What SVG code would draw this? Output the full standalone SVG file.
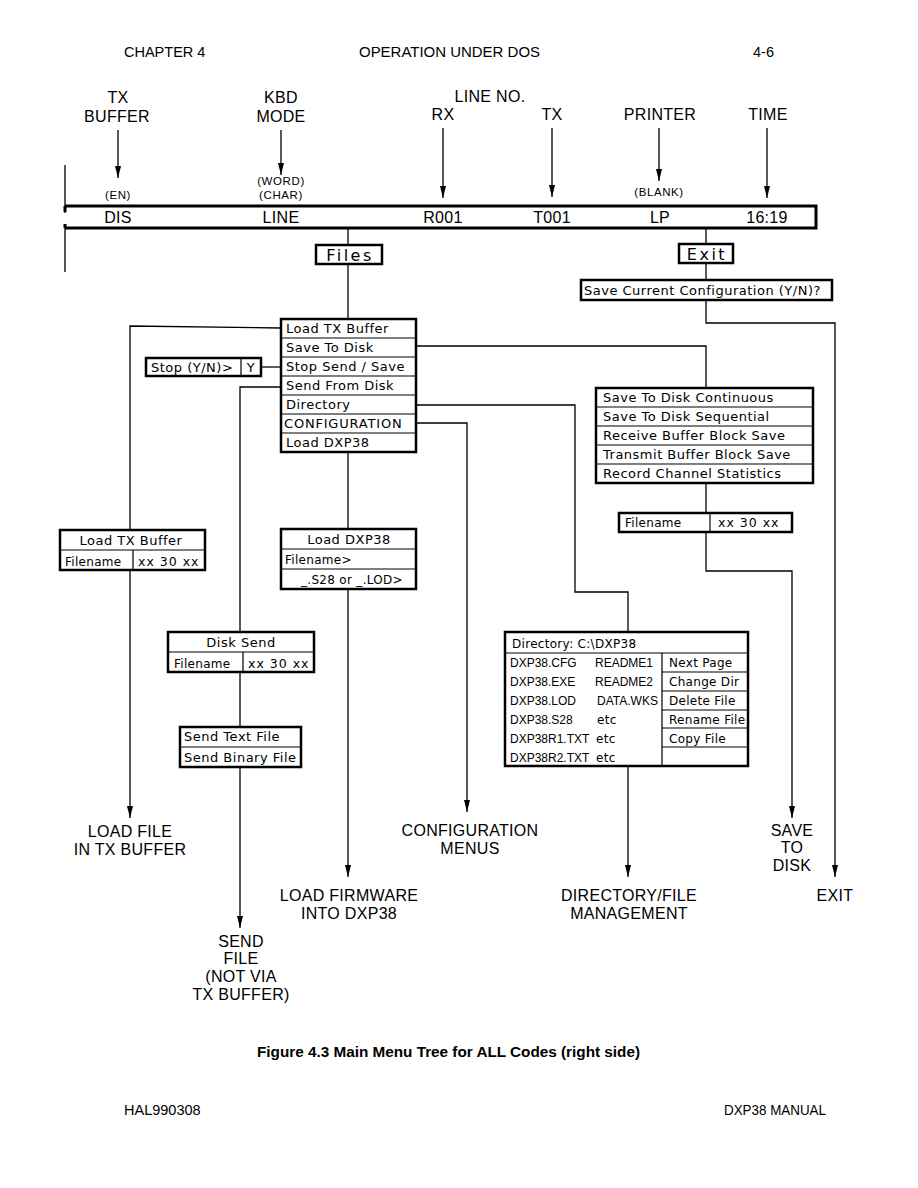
<svg xmlns="http://www.w3.org/2000/svg" width="918" height="1188" viewBox="0 0 918 1188">
<defs>
<marker id="ah" viewBox="0 0 12 6" refX="12" refY="3" markerWidth="12" markerHeight="6" markerUnits="userSpaceOnUse" orient="auto"><path d="M0,0 L12,3 L0,6 z" fill="#000"/></marker>
</defs>
<style>
.hdr{font-family:"Liberation Sans",Arial,sans-serif;font-size:14.5px;fill:#000}
.cap{font-family:"Liberation Sans",Arial,sans-serif;font-size:14px;font-weight:bold;fill:#000}
.lbl{font-family:"Liberation Sans",Arial,sans-serif;font-size:16px;letter-spacing:0.3px;fill:#000}
.sm{font-family:"Liberation Sans",Arial,sans-serif;font-size:11.5px;letter-spacing:0.6px;fill:#000}
.mt{font-family:"DejaVu Sans",sans-serif;font-size:13px;letter-spacing:0.5px;fill:#000}
.st{font-family:"DejaVu Sans",sans-serif;font-size:12px;letter-spacing:0.3px;fill:#000}
.xx{font-family:"DejaVu Sans",sans-serif;font-size:12.5px;letter-spacing:1px;fill:#000}
.dt{font-family:"Liberation Sans",Arial,sans-serif;font-size:12px;fill:#000}
.big{font-family:"DejaVu Sans",sans-serif;font-size:16px;letter-spacing:2.5px;fill:#000}
.m{text-anchor:middle}
.box{fill:#fff;stroke:#000;stroke-width:2.5}
.sep{stroke:#000;stroke-width:1.2;fill:none}
.cn{stroke:#000;stroke-width:1.3;fill:none}
.ar{marker-end:url(#ah)}
.bar{stroke:#000;stroke-width:3;fill:none}
</style>
<rect width="918" height="1188" fill="#fff"/>

<g id="page-header">
<text class="hdr" x="124" y="57">CHAPTER 4</text>
<text class="hdr" x="359" y="57" textLength="181" lengthAdjust="spacingAndGlyphs">OPERATION UNDER DOS</text>
<text class="hdr" x="753" y="57">4-6</text>
</g>

<g id="connectors">
<path class="cn ar" d="M118,130 V178"/>
<path class="cn ar" d="M281,130 V175"/>
<path class="cn ar" d="M443,128 V198"/>
<path class="cn ar" d="M552,128 V197"/>
<path class="cn ar" d="M659,128 V181"/>
<path class="cn ar" d="M767,128 V198"/>
<path class="cn" d="M65,165 V213 M65,224 V272"/>
<path class="cn" d="M348,228 V245"/>
<path class="cn" d="M348,264 V319"/>
<path class="cn" d="M706,228 V244"/>
<path class="cn" d="M706,263 V280"/>
<path class="cn ar" d="M706,300 V323 H835 V877"/>
<path class="cn" d="M281,328 L130,326 V530"/>
<path class="cn ar" d="M130,570 V818"/>
<path class="cn" d="M261,367 H281"/>
<path class="cn" d="M281,387 H240 V632"/>
<path class="cn" d="M240,672 V727"/>
<path class="cn ar" d="M240,767 V928"/>
<path class="cn" d="M348,452 V529"/>
<path class="cn ar" d="M348,589 V877"/>
<path class="cn ar" d="M416,423 H467 V812"/>
<path class="cn" d="M416,405 H575 V592 H628 V632"/>
<path class="cn ar" d="M628,766 V877"/>
<path class="cn" d="M416,346 H706 V388"/>
<path class="cn" d="M706,483 V513"/>
<path class="cn ar" d="M706,532 V571 H792 V818"/>
</g>

<g id="label-tx-buffer">
<text class="lbl m" x="118" y="103">TX</text>
<text class="lbl m" x="117" y="122">BUFFER</text>
<text class="sm m" x="118" y="199">(EN)</text>
</g>
<g id="label-kbd-mode">
<text class="lbl m" x="281" y="103">KBD</text>
<text class="lbl m" x="281" y="122">MODE</text>
<text class="sm m" x="281" y="185">(WORD)</text>
<text class="sm m" x="281" y="199">(CHAR)</text>
</g>
<g id="label-line-no">
<text class="lbl m" x="490" y="102">LINE NO.</text>
<text class="lbl m" x="443" y="120">RX</text>
<text class="lbl m" x="552" y="120">TX</text>
</g>
<g id="label-printer">
<text class="lbl m" x="660" y="120">PRINTER</text>
<text class="sm m" x="659" y="196">(BLANK)</text>
</g>
<g id="label-time">
<text class="lbl m" x="768" y="120">TIME</text>
</g>

<g id="status-bar">
<path class="bar" d="M65,206 H816 V228 H65"/>
<path class="bar" d="M65,206 V212 M65,224 V228"/>
<text class="lbl m" x="118" y="223">DIS</text>
<text class="lbl m" x="281" y="223">LINE</text>
<text class="lbl m" x="443" y="223">R001</text>
<text class="lbl m" x="552" y="223">T001</text>
<text class="lbl m" x="660" y="223">LP</text>
<text class="lbl m" x="767" y="223">16:19</text>
</g>

<g id="files">
<rect class="box" x="316" y="245" width="66" height="19"/>
<text class="big m" x="350" y="261">Files</text>
</g>

<g id="exit">
<rect class="box" x="679" y="244" width="54" height="19"/>
<text class="big m" x="707" y="260">Exit</text>
</g>

<g id="save-config">
<rect class="box" x="581" y="280" width="251" height="20"/>
<text class="mt" x="584" y="295">Save Current Configuration (Y/N)?</text>
</g>

<g id="main-menu">
<rect class="box" x="281" y="319" width="135" height="133"/>
<path class="sep" d="M281,338 H416 M281,357 H416 M281,376 H416 M281,395 H416 M281,414 H416 M281,433 H416"/>
<text class="mt" x="286" y="333">Load TX Buffer</text>
<text class="mt" x="286" y="352">Save To Disk</text>
<text class="mt" x="286" y="371">Stop Send / Save</text>
<text class="mt" x="286" y="390">Send From Disk</text>
<text class="mt" x="286" y="409">Directory</text>
<text class="mt" x="284" y="428" style="letter-spacing:0.8px">CONFIGURATION</text>
<text class="mt" x="286" y="447">Load DXP38</text>
</g>

<g id="stop-prompt">
<rect class="box" x="146" y="358" width="115" height="18"/>
<path class="sep" d="M241,358 V376"/>
<text class="mt" x="151" y="372">Stop (Y/N)&gt;</text>
<text class="mt m" x="251" y="372">Y</text>
</g>

<g id="save-options">
<rect class="box" x="596" y="388" width="217" height="95"/>
<path class="sep" d="M596,407 H813 M596,426 H813 M596,445 H813 M596,464 H813"/>
<text class="mt" x="603" y="402">Save To Disk Continuous</text>
<text class="mt" x="603" y="421">Save To Disk Sequential</text>
<text class="mt" x="603" y="440">Receive Buffer Block Save</text>
<text class="mt" x="603" y="459">Transmit Buffer Block Save</text>
<text class="mt" x="603" y="478">Record Channel Statistics</text>
</g>

<g id="save-filename">
<rect class="box" x="619" y="513" width="173" height="19"/>
<path class="sep" d="M710,513 V532"/>
<text class="st" x="625" y="527">Filename</text>
<text class="xx" x="718" y="527">xx 30 xx</text>
</g>

<g id="load-tx-buffer">
<rect class="box" x="60" y="530" width="145" height="40"/>
<path class="sep" d="M60,550 H205 M133,550 V570"/>
<text class="mt m" x="131" y="545">Load TX Buffer</text>
<text class="st" x="65" y="566">Filename</text>
<text class="xx" x="138" y="566">xx 30 xx</text>
</g>

<g id="load-dxp38">
<rect class="box" x="281" y="529" width="135" height="60"/>
<path class="sep" d="M281,549 H416 M281,569 H416"/>
<text class="mt m" x="349" y="544">Load DXP38</text>
<text class="st" x="285" y="564">Filename&gt;</text>
<text class="st m" x="352" y="584">_.S28 or _.LOD&gt;</text>
</g>

<g id="disk-send">
<rect class="box" x="168" y="632" width="146" height="40"/>
<path class="sep" d="M168,652 H314 M243,652 V672"/>
<text class="mt m" x="241" y="647">Disk Send</text>
<text class="st" x="174" y="668">Filename</text>
<text class="xx" x="248" y="668">xx 30 xx</text>
</g>

<g id="send-type">
<rect class="box" x="180" y="727" width="121" height="40"/>
<path class="sep" d="M180,747 H301"/>
<text class="mt" x="184" y="741">Send Text File</text>
<text class="mt" x="184" y="762">Send Binary File</text>
</g>

<g id="directory-box">
<rect class="box" x="505" y="632" width="243" height="134"/>
<path class="sep" d="M505,653 H748 M662,653 V766 M662,672 H748 M662,691 H748 M662,710 H748 M662,728 H748 M662,747 H748"/>
<text class="st" x="512" y="648">Directory: C:\DXP38</text>
<text class="dt" x="510" y="667">DXP38.CFG</text>
<text class="dt" x="595" y="667">README1</text>
<text class="dt" x="510" y="686">DXP38.EXE</text>
<text class="dt" x="595" y="686">README2</text>
<text class="dt" x="510" y="705">DXP38.LOD</text>
<text class="dt" x="597" y="705">DATA.WKS</text>
<text class="dt" x="510" y="724">DXP38.S28</text>
<text class="st" x="597" y="724">etc</text>
<text class="dt" x="510" y="743">DXP38R1.TXT</text>
<text class="st" x="596" y="743">etc</text>
<text class="dt" x="510" y="762">DXP38R2.TXT</text>
<text class="st" x="596" y="762">etc</text>
<text class="st" x="669" y="667">Next Page</text>
<text class="st" x="669" y="686">Change Dir</text>
<text class="st" x="669" y="705">Delete File</text>
<text class="st" x="669" y="724">Rename File</text>
<text class="st" x="669" y="743">Copy File</text>
</g>

<g id="end-load-file">
<text class="lbl m" x="130" y="837">LOAD FILE</text>
<text class="lbl m" x="130" y="855">IN TX BUFFER</text>
</g>
<g id="end-send-file">
<text class="lbl m" x="241" y="947">SEND</text>
<text class="lbl m" x="241" y="964">FILE</text>
<text class="lbl m" x="241" y="982">(NOT VIA</text>
<text class="lbl m" x="241" y="1000">TX BUFFER)</text>
</g>
<g id="end-load-firmware">
<text class="lbl m" x="349" y="901">LOAD FIRMWARE</text>
<text class="lbl m" x="349" y="919">INTO DXP38</text>
</g>
<g id="end-config-menus">
<text class="lbl m" x="470" y="836">CONFIGURATION</text>
<text class="lbl m" x="470" y="854">MENUS</text>
</g>
<g id="end-directory">
<text class="lbl m" x="629" y="901">DIRECTORY/FILE</text>
<text class="lbl m" x="629" y="919">MANAGEMENT</text>
</g>
<g id="end-save-disk">
<text class="lbl m" x="792" y="836">SAVE</text>
<text class="lbl m" x="792" y="853">TO</text>
<text class="lbl m" x="792" y="871">DISK</text>
</g>
<g id="end-exit">
<text class="lbl m" x="835" y="901">EXIT</text>
</g>

<g id="caption">
<text class="cap" x="257" y="1057" textLength="383" lengthAdjust="spacingAndGlyphs">Figure 4.3  Main Menu Tree for ALL Codes (right side)</text>
</g>
<g id="page-footer">
<text class="hdr" x="124" y="1115">HAL990308</text>
<text class="hdr" x="724" y="1115" textLength="102" lengthAdjust="spacingAndGlyphs">DXP38 MANUAL</text>
</g>
</svg>
